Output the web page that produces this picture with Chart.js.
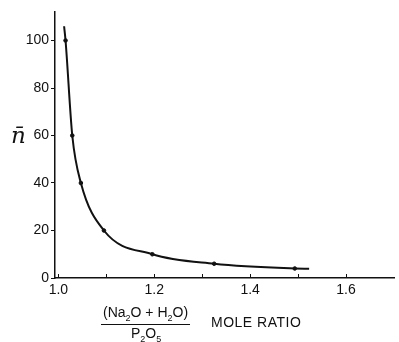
<!DOCTYPE html>
<html>
<head>
<meta charset="utf-8">
<script src="https://cdn.jsdelivr.net/npm/chart.js@4"></script>
<style>
  html, body { margin: 0; padding: 0; background: #fff; }
  #wrap { position: relative; width: 399px; height: 342px; }
  canvas { position: absolute; left: 0; top: 0; }
  .lbl { position: absolute; font-family: "Liberation Sans", sans-serif; color: #111; white-space: nowrap; }
  #ytitle { left: 11px; top: 122px; font-family: "DejaVu Serif", serif; font-style: italic; font-size: 23px; }
  #num { left: 101px; top: 304px; font-size: 14px; border-bottom: 1.5px solid #111; padding: 0 2px 1px 2px; }
  #den { left: 131px; top: 325px; font-size: 14px; }
  #unit { left: 211px; top: 314px; font-size: 14px; letter-spacing: 0.5px; }
</style>
</head>
<body>
<div id="wrap">
  <canvas id="chart" width="399" height="342"></canvas>
  <div class="lbl" id="ytitle">n&#772;</div>
  <div class="lbl" id="num">(Na<sub style="font-size:9px">2</sub>O + H<sub style="font-size:9px">2</sub>O)</div>
  <div class="lbl" id="den">P<sub style="font-size:9px">2</sub>O<sub style="font-size:9px">5</sub></div>
  <div class="lbl" id="unit">MOLE RATIO</div>
</div>
<script>
// Measured points (mole ratio vs n-bar)
const pointX = [1.015, 1.029, 1.047, 1.095, 1.196, 1.325, 1.493];
const pointY = [100, 60, 40, 20, 10, 6, 4];

// Drawn smooth curve
const curveX = [1.012, 1.015, 1.029, 1.047, 1.095, 1.196, 1.325, 1.493, 1.523];
const curveY = [106, 100, 60, 40, 20, 10, 6, 4, 3.9];

// Axis ticks
const xTicks = [1.0, 1.2, 1.4, 1.6];
const xMinorTicks = [1.1, 1.3, 1.5];
const yTicks = [0, 20, 40, 60, 80, 100];

const tickFont = { family: 'Liberation Sans', size: 14 };

// Small inward tick marks on the x axis
const innerTicks = {
    id: 'innerTicks',
    afterDraw(chart) {
        const ctx = chart.ctx;
        const x = chart.scales.x;
        const y0 = chart.chartArea.bottom;
        ctx.save();
        ctx.strokeStyle = '#111';
        ctx.lineWidth = 1;
        xTicks.concat(xMinorTicks).forEach(v => {
            const px = Math.round(x.getPixelForValue(v)) + 0.5;
            ctx.beginPath();
            ctx.moveTo(px, y0);
            ctx.lineTo(px, y0 - 4);
            ctx.stroke();
        });
        ctx.restore();
    }
};

new Chart(document.getElementById('chart'), {
    type: 'scatter',
    data: {
        datasets: [
            {
                data: curveX.map((x, i) => ({ x: x, y: curveY[i] })),
                showLine: true,
                borderColor: '#111',
                borderWidth: 2,
                pointRadius: 0,
                cubicInterpolationMode: 'monotone'
            },
            {
                data: pointX.map((x, i) => ({ x: x, y: pointY[i] })),
                showLine: false,
                pointRadius: 1.8,
                backgroundColor: '#111',
                borderColor: '#111'
            }
        ]
    },
    options: {
        responsive: false,
        animation: false,
        layout: { padding: { top: 12, right: 1, left: 0, bottom: 0 } },
        plugins: { legend: { display: false }, tooltip: { enabled: false } },
        scales: {
            x: {
                type: 'linear',
                min: 0.993,
                max: 1.70,
                afterBuildTicks: s => { s.ticks = xTicks.map(v => ({ value: v })); },
                afterFit: s => { s.height = 64; },
                grid: { drawOnChartArea: false, drawTicks: false },
                border: { color: '#111', width: 1.5 },
                ticks: {
                    color: '#111',
                    font: tickFont,
                    padding: 4,
                    maxRotation: 0,
                    callback: v => v.toFixed(1)
                }
            },
            y: {
                min: 0,
                max: 112,
                afterBuildTicks: s => { s.ticks = yTicks.map(v => ({ value: v })); },
                afterFit: s => { s.width = 55; },
                grid: { drawOnChartArea: false, drawTicks: true, tickLength: 4, color: '#111' },
                border: { color: '#111', width: 1.5 },
                ticks: { color: '#111', font: tickFont, padding: 2 }
            }
        }
    },
    plugins: [innerTicks]
});
</script>
</body>
</html>
